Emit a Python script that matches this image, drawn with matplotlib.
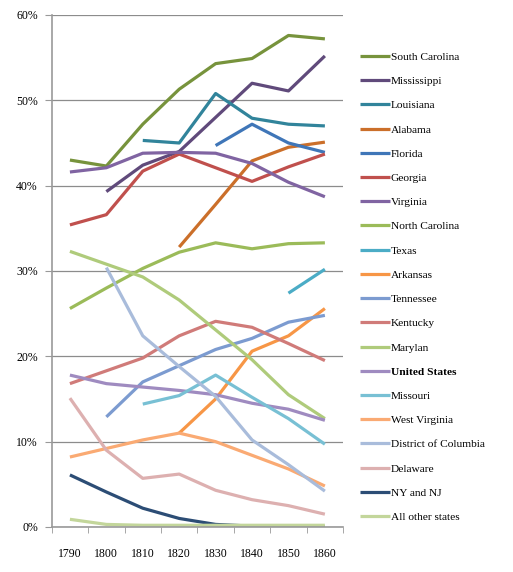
import matplotlib.pyplot as plt
import numpy as np

# 数据
years = ['1790', '1800', '1810', '1820', '1830', '1840', '1850', '1860']
nan = np.nan

south_carolina = [43.0, 42.3, 47.2, 51.3, 54.3, 54.9, 57.6, 57.2]
mississippi = [nan, 39.3, 42.4, 44.0, 48.0, 52.0, 51.1, 55.2]
louisiana = [nan, nan, 45.3, 45.0, 50.8, 47.9, 47.2, 47.0]
alabama = [nan, nan, nan, 32.8, 37.8, 42.9, 44.5, 45.1]
florida = [nan, nan, nan, nan, 44.7, 47.2, 45.0, 43.9]
georgia = [35.4, 36.6, 41.7, 43.7, 42.1, 40.5, 42.2, 43.7]
virginia = [41.6, 42.1, 43.8, 43.9, 43.8, 42.6, 40.4, 38.7]
north_carolina = [25.6, 28.0, 30.3, 32.2, 33.3, 32.6, 33.2, 33.3]
texas = [nan, nan, nan, nan, nan, nan, 27.4, 30.2]
arkansas = [nan, nan, nan, 11.0, 15.0, 20.6, 22.4, 25.6]
tennessee = [nan, 12.9, 17.0, 18.9, 20.8, 22.1, 24.0, 24.8]
kentucky = [16.8, 18.3, 19.8, 22.4, 24.1, 23.4, 21.5, 19.5]
maryland = [32.3, 30.8, 29.3, 26.6, 23.1, 19.6, 15.5, 12.7]
united_states = [17.8, 16.8, 16.4, 16.0, 15.5, 14.5, 13.8, 12.5]
missouri = [nan, nan, 14.4, 15.4, 17.8, 15.2, 12.7, 9.7]
west_virginia = [8.2, 9.2, 10.2, 11.0, 10.0, 8.4, 6.8, 4.8]
dc = [nan, 30.4, 22.4, 18.8, 15.3, 10.2, 7.3, 4.2]
delaware = [15.1, 9.0, 5.7, 6.2, 4.3, 3.2, 2.5, 1.5]
ny_nj = [6.1, 4.1, 2.2, 1.0, 0.3, 0.1, 0.0, 0.0]
other = [0.9, 0.3, 0.2, 0.2, 0.2, 0.2, 0.2, 0.2]

labels = ['South Carolina', 'Mississippi', 'Louisiana', 'Alabama', 'Florida',
          'Georgia', 'Virginia', 'North Carolina', 'Texas', 'Arkansas',
          'Tennessee', 'Kentucky', 'Marylan', 'United States', 'Missouri',
          'West Virginia', 'District of Columbia', 'Delaware', 'NY and NJ',
          'All other states']
series = [south_carolina, mississippi, louisiana, alabama, florida, georgia,
          virginia, north_carolina, texas, arkansas, tennessee, kentucky,
          maryland, united_states, missouri, west_virginia, dc, delaware,
          ny_nj, other]
colors = ['#77933C', '#604A7B', '#31849B', '#CB6F2A', '#3F76B8', '#C0504D',
          '#8064A2', '#9BBB59', '#4BACC6', '#F79646', '#7C9BD0', '#D07B79',
          '#AFCB7B', '#9F8BC0', '#78C0D4', '#FAAA73', '#A9BCDB', '#DDB0B0',
          '#2C4D75', '#C3D69B']

# 描画
plt.rcParams['font.family'] = ['Liberation Serif', 'DejaVu Serif']

fig = plt.figure(figsize=(5.13, 5.72), dpi=100)
ax = fig.add_axes([0.1008, 0.0787, 0.568, 0.8951])

x = np.arange(len(years))
for vals, lab, col in zip(series, labels, colors):
    ax.plot(x, vals, color=col, lw=2.3, label=lab, solid_capstyle='butt')

ax.set_xlim(-0.5, len(years) - 0.5)
ax.set_ylim(0, 60)
ax.set_yticks(np.arange(0, 61, 10))
ax.set_yticklabels([f'{v}%' for v in range(0, 61, 10)], fontsize=8.5)
ax.set_xticks(x)
ax.set_xticklabels(years, fontsize=8.5)
ax.set_xticks(np.arange(-0.5, len(years)), minor=True)
ax.tick_params(axis='x', which='major', length=0, pad=15)
ax.tick_params(axis='x', which='minor', length=4, color='#999999')
ax.tick_params(axis='y', length=5, color='#999999', pad=5)

ax.grid(axis='y', color='#8c8c8c', lw=0.9)
ax.set_axisbelow(True)
for s in ['top', 'right']:
    ax.spines[s].set_visible(False)
for s in ['left', 'bottom']:
    ax.spines[s].set_color('#999999')
    ax.spines[s].set_linewidth(1.2)

leg = ax.legend(loc='upper left', bbox_to_anchor=(0.701, 0.909),
                bbox_transform=fig.transFigure, frameon=False, fontsize=8.2,
                handlelength=2.65, handletextpad=0.08, labelspacing=1.25,
                borderaxespad=0, borderpad=0)
leg.get_texts()[13].set_fontweight('bold')

plt.savefig('out.png', dpi=100)
